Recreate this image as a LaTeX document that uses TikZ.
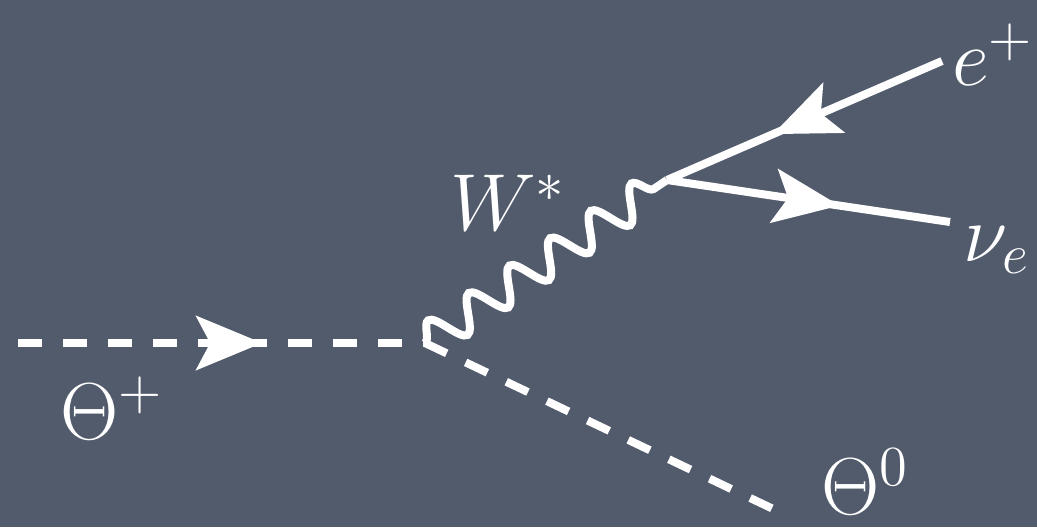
\RequirePackage{fix-cm}
\documentclass[tikz,border=0pt]{standalone}
\usetikzlibrary{arrows.meta,decorations.pathmorphing,decorations.markings}
\definecolor{slate}{RGB}{82,91,108}

\begin{document}
\begin{tikzpicture}[x=0.01cm,y=-0.01cm,line width=0.08cm,white,scalar/.style={dash pattern=on 0.24cm off 0.21cm},fermion/.style={postaction={decorate},decoration={markings,mark=at position #1 with {\arrow{Stealth[length=0.66cm,width=0.54cm,inset=0.14cm]}}}},boson/.style={decorate,decoration={snake,segment length=0.49cm,amplitude=0.17cm}},lbl/.style={font=\fontsize{23}{28}\selectfont}]
\fill[slate] (0,0) rectangle (1037,527);
\useasboundingbox (0,0) rectangle (1037,527);
\coordinate (in) at (18,343);\coordinate (v1) at (425,343);\coordinate (v2) at (667,180);
\coordinate (pos) at (942,61);\coordinate (nu) at (950,222);\coordinate (out) at (790,517);
\draw[scalar,fermion=0.6] (in) -- (v1);
\draw[scalar] (v1) -- (out);
\draw[boson] (v1) -- (v2);
\draw[fermion=0.615] (pos) -- (v2);
\draw[fermion=0.61] (v2) -- (nu);
\node[lbl] (thp) at (112,408) {$\Theta^+$};
\node[lbl] (w) at (508,203) {$W^*$};
\node[lbl] (ep) at (993,55) {$e^+$};
\node[lbl] (nue) at (997,250) {$\nu_e$};
\node[lbl] (th0) at (865,482) {$\Theta^0$};
\end{tikzpicture}
\end{document}
